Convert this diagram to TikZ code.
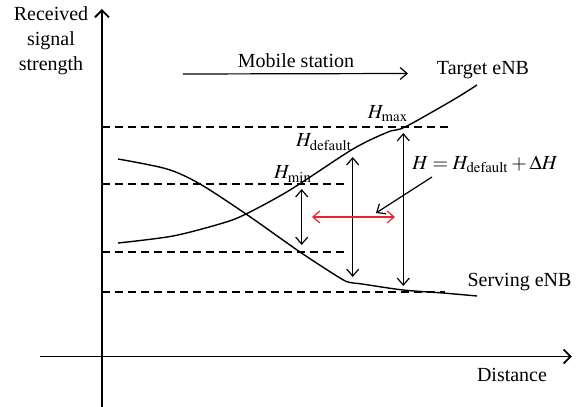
\documentclass[tikz,border=0pt]{standalone}
\usepackage{mathptmx}
\usepackage{fontspec}
\setmainfont{Liberation Serif}
\usetikzlibrary{arrows.meta}
\definecolor{shiftred}{RGB}{232,36,44}
\tikzset{
x=0.5pt, y=-0.5pt, % one unit is one pixel of the sketch
>={Straight Barb[length=3.5pt,width=6pt]}, % open arrow heads
axis/.style={line width=0.9pt, ->, >={Straight Barb[length=3.5pt,width=7pt]}}, % the two axes
curve/.style={line width=0.7pt}, % signal curves
level/.style={line width=0.6pt, dash pattern=on 4pt off 2.5pt}, % threshold levels
span/.style={line width=0.6pt, <->}, % hysteresis spans
txt/.style={inner sep=0pt, font=\fontsize{10}{12.5}\selectfont}, % all texts
}

\begin{document}
\begin{tikzpicture}
    \useasboundingbox (0,0) rectangle (586,407);
    % axes
    \coordinate (yb) at (102,407);
    \coordinate (yt) at (102,9);
    \coordinate (xl) at (40,356.5);
    \coordinate (xr) at (572,356.5);
    \draw[axis] (yb) -- (yt);
    \draw[axis] (xl) -- (xr);
    \node[txt, align=center] (rss) at (51,41) {Received\\signal\\strength};
    \node[txt] (dist) at (512,375) {Distance};

    % dashed levels
    \coordinate (l1a) at (102,127); \coordinate (l1b) at (450,127);
    \coordinate (l2a) at (102,184); \coordinate (l2b) at (348,184);
    \coordinate (l3a) at (102,252); \coordinate (l3b) at (348,252);
    \coordinate (l4a) at (102,292); \coordinate (l4b) at (445,292);
    \draw[level] (l1a) -- (l1b);
    \draw[level] (l2a) -- (l2b);
    \draw[level] (l3a) -- (l3b);
    \draw[level] (l4a) -- (l4b);

    % signal curves
    \draw[curve] plot[smooth, tension=0.5] coordinates {(118,243) (173,236) (223,223) (246,214) (290,190) (353,149) (388,132) (405,127) (453,100) (477,85)};
    \draw[curve] plot[smooth, tension=0.5] coordinates {(118,159) (167,169) (200,184) (246,214) (300,252) (340,278) (350,282.5) (362,284) (403,290) (443,293) (477,296)};
    \node[txt] (tgt) at (483,70) {Target eNB};
    \node[txt] (srv) at (519.5,282) {Serving eNB};

    % moving direction
    \coordinate (ma) at (183,74);
    \coordinate (mb) at (408,73.5);
    \draw[line width=0.6pt, ->] (ma) -- (mb);
    \node[txt] (mob) at (296,61) {Mobile station};

    % hysteresis spans
    \coordinate (hmina) at (301.7,189); \coordinate (hminb) at (301.7,245);
    \coordinate (hdefa) at (352.7,157); \coordinate (hdefb) at (352.7,277);
    \coordinate (hmaxa) at (403.3,133); \coordinate (hmaxb) at (403.3,286);
    \draw[span] (hmina) -- (hminb);
    \draw[span] (hdefa) -- (hdefb);
    \draw[span] (hmaxa) -- (hmaxb);
    \node[txt] (hmin) at (293,174) {$H_{\mathrm{min}}$};
    \node[txt] (hdef) at (324,142) {$H_{\mathrm{default}}$};
    \node[txt] (hmax) at (388,114) {$H_{\mathrm{max}}$};

    % adaptive offset
    \coordinate (da) at (312,217);
    \coordinate (db) at (395,217);
    \draw[span, shiftred] (da) -- (db);
    \node[txt] (heq) at (485,164) {$H = H_{\mathrm{default}} + \Delta H$};
    \coordinate (pa) at (432,177);
    \coordinate (pb) at (376,213);
    \draw[line width=0.6pt, ->] (pa) -- (pb);
\end{tikzpicture}
\end{document}
